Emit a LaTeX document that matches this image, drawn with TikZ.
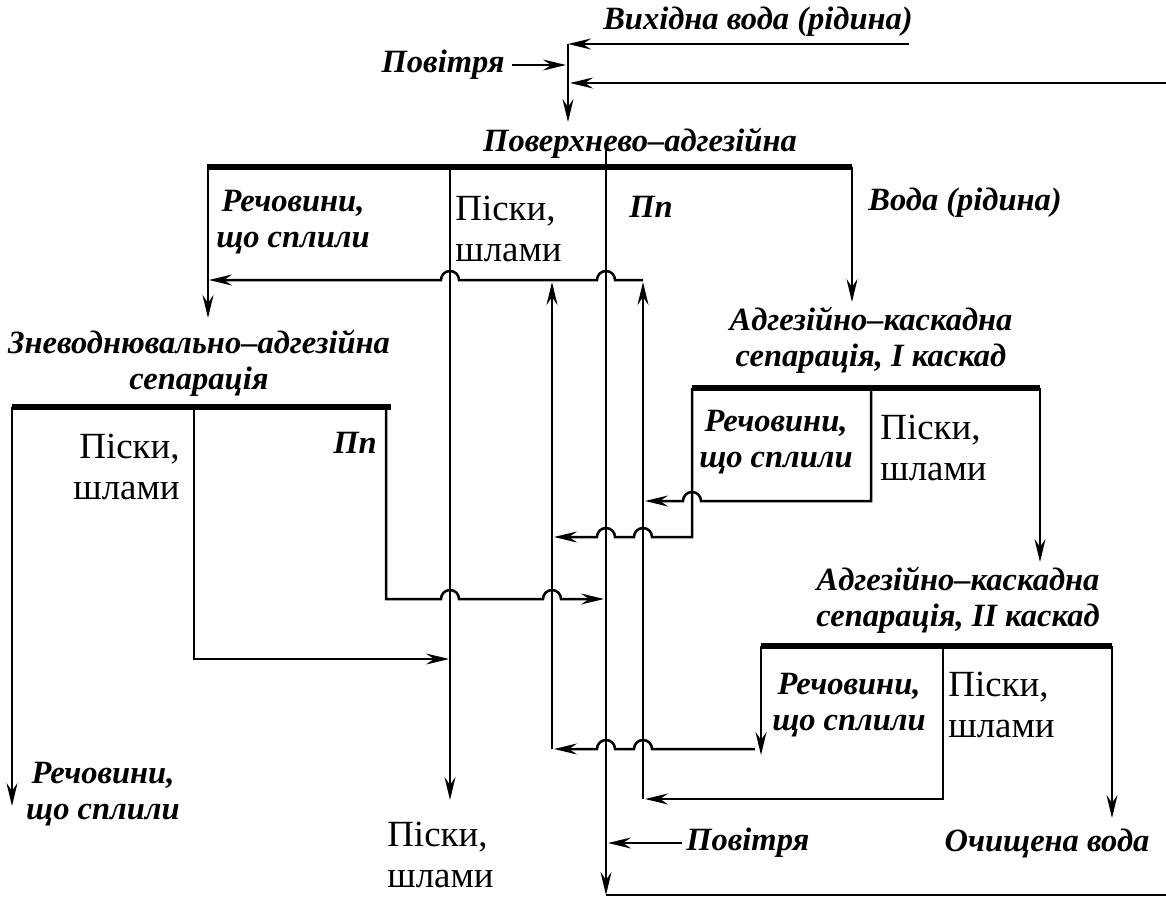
\documentclass[tikz,border=0pt]{standalone}
\usepackage{fontspec}
\setmainfont{Liberation Serif}
\usepackage{tikz}
\usetikzlibrary{arrows.meta}
\tikzset{
  pipe/.style={line width=0.5mm},
  flow/.style={pipe, -{Stealth[length=4.6mm, width=2.2mm, inset=1.6mm]}},
  bar/.style={line width=1.15mm},
  lab/.style={font=\fontsize{18.5}{20.5}\selectfont\bfseries\itshape, align=center, inner sep=0pt},
  prod/.style={font=\fontsize{21}{23.5}\selectfont, align=left, inner sep=0pt},
}
% hop over a vertical line at (#1,#2): to the left / to the right
\newcommand{\hopl}[2]{-- (#1+9,#2) arc[start angle=0, end angle=180, radius=1.8mm]}
\newcommand{\hopr}[2]{-- (#1-9,#2) arc[start angle=180, end angle=0, radius=1.8mm]}

\begin{document}
\begin{tikzpicture}[x=0.2mm, y=-0.2mm]
\useasboundingbox (0,0) rectangle (1166,899);

% feed
\node[lab] (vhid) at (758,22) {Вихідна вода (рідина)};
\node[lab, anchor=east] (povitrya1) at (505,65) {Повітря};
\draw[flow] (909,44) -- (568,44);
\draw[flow] (568,44) -- (568,122);
\draw[flow] (512,65) -- (566,65);
\draw[flow] (1166,83) -- (570,83);

% surface-adhesive separation
\node[lab] (sep1) at (640,143) {Поверхнево–адгезійна};
\node[lab] (rech1) at (293,222) {Речовини,\\що сплили};
\node[prod, anchor=west] (pisky1) at (455,229) {Піски,\\шлами};
\node[lab] (pp1) at (651,207) {Пп};
\node[lab, anchor=west] (voda1) at (868,203) {Вода (рідина)};
\draw[bar] (207,167) -- (852,167);
\draw[flow] (208,167) -- (208,318);
\draw[flow] (450,167) -- (450,800);
\draw[flow] (606,143) -- (606,895);
\draw[pipe] (606,895) -- (1166,895);
\draw[flow] (852,167) -- (852,302);
\draw[flow] (643,280) \hopl{606}{280} \hopl{450}{280} -- (209,280);
\draw[flow] (552,749) -- (552,282);
\draw[flow] (643,799) -- (643,282);

% dewatering-adhesive separation
\node[lab] (sepz) at (199,363) {Зневоднювально–адгезійна\\сепарація};
\node[prod, align=right, anchor=east] (piskyz) at (180,467) {Піски,\\шлами};
\node[lab, anchor=east] (ppz) at (377,443) {Пп};
\node[lab] (rechz) at (103,794) {Речовини,\\що сплили};
\node[prod, anchor=west] (piskyout) at (387,855) {Піски,\\шлами};
\draw[bar] (12,407) -- (391,407);
\draw[flow] (12,407) -- (12,806);
\draw[flow] (194,407) -- (194,659) -- (449,659);
\draw[flow] (386,407) -- (386,599) \hopr{450}{599} \hopr{552}{599} -- (604,599);

% cascade I
\node[lab] (sep2) at (871,340) {Адгезійно–каскадна\\сепарація, I каскад};
\node[lab] (rech2) at (776,442) {Речовини,\\що сплили};
\node[prod, anchor=west] (pisky2) at (880,448) {Піски,\\шлами};
\draw[bar] (692,388) -- (1040,388);
\draw[flow] (692,388) -- (692,537) \hopl{643}{537} \hopl{606}{537} -- (554,537);
\draw[flow] (871,388) -- (871,501) \hopl{692}{501} -- (645,501);
\draw[flow] (1040,388) -- (1040,562);

% cascade II
\node[lab] (sep3) at (958,600) {Адгезійно–каскадна\\сепарація, II каскад};
\node[lab] (rech3) at (849,705) {Речовини,\\що сплили};
\node[prod, anchor=west] (pisky3) at (948,705) {Піски,\\шлами};
\node[lab, anchor=west] (povitrya2) at (686,843) {Повітря};
\node[lab] (ochyshch) at (1047,843) {Очищена вода};
\draw[bar] (761,646) -- (1112,646);
\draw[flow] (761,646) -- (761,755);
\draw[flow] (755,749) \hopl{643}{749} \hopl{606}{749} -- (554,749);
\draw[flow] (943,646) -- (943,799) -- (645,799);
\draw[flow] (1112,646) -- (1112,818);
\draw[flow] (682,843) -- (608,843);
\end{tikzpicture}
\end{document}
